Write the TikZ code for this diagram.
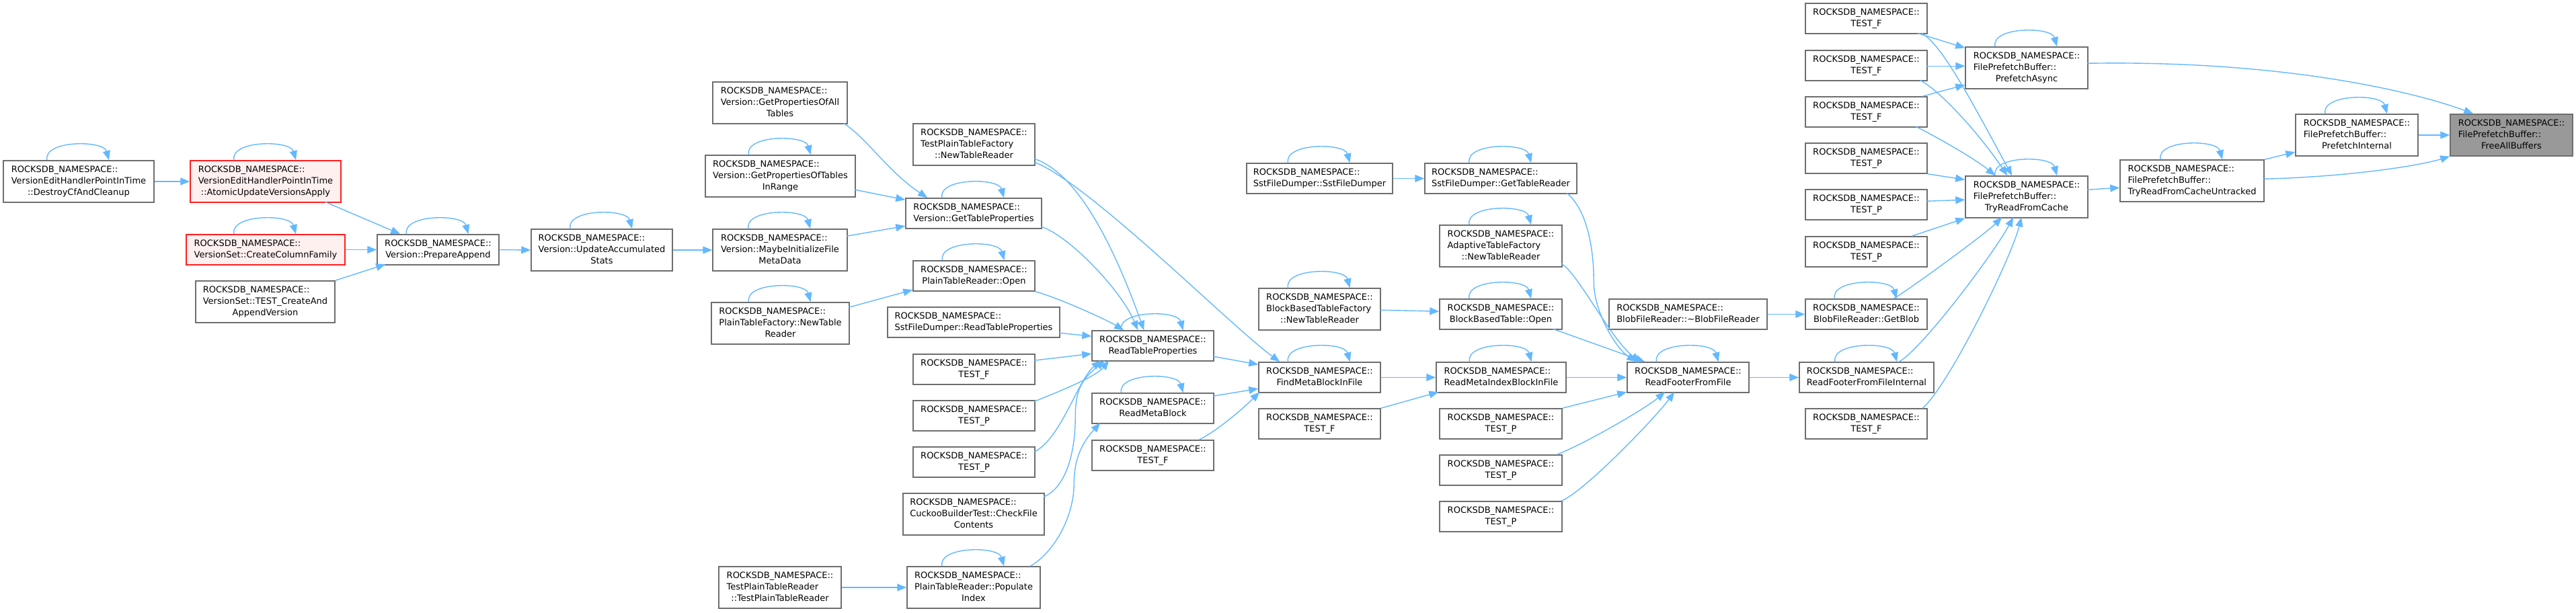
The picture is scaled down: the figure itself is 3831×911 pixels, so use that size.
\documentclass[tikz,border=0pt]{standalone}
\usepackage{fontspec}
\setmainfont{DejaVu Sans}
\usetikzlibrary{arrows.meta}
\definecolor{edgeblue}{HTML}{63B8FF}
\definecolor{bordergray}{HTML}{6E6E6E}
\definecolor{boxred}{HTML}{FF2020}
\definecolor{redfill}{HTML}{FFF0F0}
\definecolor{hlgray}{HTML}{999999}
\newcommand\labelfont{\fontsize{13}{16.7}\selectfont}
\newcommand\Lbl[2]{\begin{tabular}{@{}l@{}}#1\\\multicolumn{1}{@{}c@{}}{#2}\end{tabular}}
\newcommand\Nd[7][box]{\node[#1, minimum width={(#5)-(#3)}, minimum height={(#6)-(#4)}] (#2) at ({((#3)+(#5))/2},{((#4)+(#6))/2}) {#7};}
\newcommand\Loop[1]{\draw[edge] ([xshift=-47pt]#1.north) .. controls +(-6,-30) and +(-8,-30) .. ([xshift=45pt]#1.north);}
\newcommand\RN{ROCKSDB\_NAMESPACE::}
\tikzset{
  box/.style={draw=bordergray, line width=1.5pt, fill=white, inner sep=0pt, rectangle, font=\labelfont, text=black},
  redbox/.style={box, draw=boxred, fill=redfill},
  hibox/.style={box, fill=hlgray},
  edge/.style={draw=edgeblue, line width=1.4pt, -{Triangle[length=14pt,width=11pt]}}
}
\begin{document}
\begin{tikzpicture}[x=1pt,y=-1pt]
\useasboundingbox (0,0) rectangle (3831,911);
% nodes
\Nd{destroy}{5}{239}{229}{301}{\Lbl{\RN\\VersionEditHandlerPointInTime}{::DestroyCfAndCleanup}}
\Nd[redbox]{atomic}{283}{239}{507}{301}{\Lbl{\RN\\VersionEditHandlerPointInTime}{::AtomicUpdateVersionsApply}}
\Nd[redbox]{createcf}{277}{349}{513}{394}{\Lbl{\RN}{VersionSet::CreateColumnFamily}}
\Nd{testcreate}{291}{418}{498}{480}{\Lbl{\RN\\VersionSet::TEST\_CreateAnd}{AppendVersion}}
\Nd{prepare}{561}{349}{742}{394}{\Lbl{\RN}{Version::PrepareAppend}}
\Nd{update}{790}{341}{1000}{403}{\Lbl{\RN\\Version::UpdateAccumulated}{Stats}}
\Nd{propsall}{1060}{122}{1260}{184}{\Lbl{\RN\\Version::GetPropertiesOfAll}{Tables}}
\Nd{propsrange}{1049}{231}{1272}{293}{\Lbl{\RN\\Version::GetPropertiesOfTables}{InRange}}
\Nd{maybeinit}{1060}{341}{1260}{403}{\Lbl{\RN\\Version::MaybeInitializeFile}{MetaData}}
\Nd{plainfactory}{1058}{450}{1263}{512}{\Lbl{\RN\\PlainTableFactory::NewTable}{Reader}}
\Nd{testplainreader}{1069}{843}{1251}{905}{\Lbl{\RN\\TestPlainTableReader}{::TestPlainTableReader}}
\Nd{testplainfactory}{1358}{184}{1539}{246}{\Lbl{\RN\\TestPlainTableFactory}{::NewTableReader}}
\Nd{gettableprops}{1347}{295}{1549}{340}{\Lbl{\RN}{Version::GetTableProperties}}
\Nd{plainopen}{1358}{388}{1539}{433}{\Lbl{\RN}{PlainTableReader::Open}}
\Nd{sstreadprops}{1320}{457}{1576}{502}{\Lbl{\RN}{SstFileDumper::ReadTableProperties}}
\Nd{testfa}{1358}{527}{1539}{572}{\Lbl{\RN}{TEST\_F}}
\Nd{testpa}{1358}{596}{1539}{641}{\Lbl{\RN}{TEST\_P}}
\Nd{testpb}{1358}{665}{1539}{710}{\Lbl{\RN}{TEST\_P}}
\Nd{cuckoo}{1343}{734}{1553}{796}{\Lbl{\RN\\CuckooBuilderTest::CheckFile}{Contents}}
\Nd{populate}{1349}{843}{1547}{905}{\Lbl{\RN\\PlainTableReader::Populate}{Index}}
\Nd{readtableprops}{1624}{492}{1805}{537}{\Lbl{\RN}{ReadTableProperties}}
\Nd{readmetablock}{1624}{585}{1805}{630}{\Lbl{\RN}{ReadMetaBlock}}
\Nd{testfb}{1624}{655}{1805}{700}{\Lbl{\RN}{TEST\_F}}
\Nd{sstdumper}{1854}{243}{2071}{288}{\Lbl{\RN}{SstFileDumper::SstFileDumper}}
\Nd{bbtfactory}{1872}{429}{2053}{491}{\Lbl{\RN\\BlockBasedTableFactory}{::NewTableReader}}
\Nd{findmeta}{1872}{539}{2053}{584}{\Lbl{\RN}{FindMetaBlockInFile}}
\Nd{testfc}{1872}{608}{2053}{653}{\Lbl{\RN}{TEST\_F}}
\Nd{gettablereader}{2119}{243}{2345}{288}{\Lbl{\RN}{SstFileDumper::GetTableReader}}
\Nd{adaptive}{2141}{335}{2323}{397}{\Lbl{\RN\\AdaptiveTableFactory}{::NewTableReader}}
\Nd{bbtopen}{2141}{445}{2323}{490}{\Lbl{\RN}{BlockBasedTable::Open}}
\Nd{readmetaindex}{2136}{539}{2329}{584}{\Lbl{\RN}{ReadMetaIndexBlockInFile}}
\Nd{testpc}{2141}{608}{2323}{653}{\Lbl{\RN}{TEST\_P}}
\Nd{testpd}{2141}{677}{2323}{722}{\Lbl{\RN}{TEST\_P}}
\Nd{testpe}{2141}{746}{2323}{791}{\Lbl{\RN}{TEST\_P}}
\Nd{blobdtor}{2393}{445}{2628}{490}{\Lbl{\RN}{BlobFileReader::\textasciitilde BlobFileReader}}
\Nd{readfooter}{2420}{539}{2601}{584}{\Lbl{\RN}{ReadFooterFromFile}}
\Nd{testfone}{2685}{5}{2866}{50}{\Lbl{\RN}{TEST\_F}}
\Nd{testftwo}{2685}{75}{2866}{120}{\Lbl{\RN}{TEST\_F}}
\Nd{testfthree}{2685}{144}{2866}{189}{\Lbl{\RN}{TEST\_F}}
\Nd{testpone}{2685}{213}{2866}{258}{\Lbl{\RN}{TEST\_P}}
\Nd{testptwo}{2685}{282}{2866}{327}{\Lbl{\RN}{TEST\_P}}
\Nd{testpthree}{2685}{352}{2866}{397}{\Lbl{\RN}{TEST\_P}}
\Nd{getblob}{2685}{445}{2866}{490}{\Lbl{\RN}{BlobFileReader::GetBlob}}
\Nd{readfooterint}{2676}{539}{2876}{584}{\Lbl{\RN}{ReadFooterFromFileInternal}}
\Nd{testffour}{2685}{608}{2866}{653}{\Lbl{\RN}{TEST\_F}}
\Nd{prefetchasync}{2923}{70}{3105}{132}{\Lbl{\RN\\FilePrefetchBuffer::}{PrefetchAsync}}
\Nd{tryread}{2923}{262}{3105}{324}{\Lbl{\RN\\FilePrefetchBuffer::}{TryReadFromCache}}
\Nd{untracked}{3153}{238}{3367}{300}{\Lbl{\RN\\FilePrefetchBuffer::}{TryReadFromCacheUntracked}}
\Nd{prefetchint}{3414}{170}{3596}{232}{\Lbl{\RN\\FilePrefetchBuffer::}{PrefetchInternal}}
\Nd[hibox]{freeall}{3644}{170}{3826}{232}{\Lbl{\RN\\FilePrefetchBuffer::}{FreeAllBuffers}}
% self loops
\foreach \n in {destroy,atomic,createcf,prepare,update,propsrange,maybeinit,plainfactory,gettableprops,plainopen,readtableprops,readmetablock,populate,findmeta,sstdumper,gettablereader,adaptive,bbtfactory,bbtopen,readmetaindex,readfooter,getblob,readfooterint,prefetchasync,tryread,untracked,prefetchint}{\Loop{\n}}
% edges
\draw[edge] (destroy.east) -- (atomic.west);
\draw[edge] ([shift={(201,62)}]atomic.north west) -- ([shift={(35,0)}]prepare.north west);
\draw[edge] (createcf.east) -- (prepare.west);
\draw[edge] (testcreate.north east) -- ([shift={(13,45)}]prepare.north west);
\draw[edge] (prepare.east) -- (update.west);
\draw[edge] (update.east) -- (maybeinit.west);
\draw[edge] ([shift={(195,62)}]propsall.north west) .. controls +(35,22) and +(-60,-40) .. ([shift={(33,0)}]gettableprops.north west);
\draw[edge] ([shift={(223,52)}]propsrange.north west) -- ([shift={(0,3)}]gettableprops.north west);
\draw[edge] ([shift={(200,11)}]maybeinit.north west) -- ([shift={(0,42)}]gettableprops.north west);
\draw[edge] ([shift={(205,8)}]plainfactory.north west) -- ([shift={(0,44)}]plainopen.north west);
\draw[edge] (testplainreader.east) -- (populate.west);
\draw[edge] ([shift={(202,43)}]gettableprops.north west) .. controls +(40,12) and +(-25,-60) .. ([shift={(69,0)}]readtableprops.north west);
\draw[edge] ([shift={(181,53)}]testplainfactory.north west) .. controls +(60,20) and +(-50,-140) .. ([shift={(78,0)}]readtableprops.north west);
\draw[edge] ([shift={(181,58)}]testplainfactory.north west) .. controls +(80,30) and +(-75,-55) .. ([shift={(32,0)}]findmeta.north west);
\draw[edge] (plainopen.south east) .. controls +(30,8) and +(-30,-18) .. ([shift={(48,0)}]readtableprops.north west);
\draw[edge] ([shift={(256,39)}]sstreadprops.north west) -- ([shift={(0,9)}]readtableprops.north west);
\draw[edge] ([shift={(181,10)}]testfa.north west) -- ([shift={(0,35)}]readtableprops.north west);
\draw[edge] ([shift={(181,2)}]testpa.north west) .. controls +(25,-10) and +(-20,25) .. ([shift={(26,45)}]readtableprops.north west);
\draw[edge] ([shift={(181,8)}]testpb.north west) .. controls +(40,-20) and +(-35,30) .. ([shift={(14,45)}]readtableprops.north west);
\draw[edge] ([shift={(210,6)}]cuckoo.north west) .. controls +(35,-15) and +(0,50) .. ++(47,-120) .. controls +(0,-45) and +(-30,25) .. ([shift={(20,45)}]readtableprops.north west);
\draw[edge] ([shift={(184,0)}]populate.north west) .. controls +(35,-20) and +(0,50) .. ++(65,-123) .. controls +(0,-45) and +(-20,22) .. ([shift={(13,45)}]readmetablock.north west);
\draw[edge] ([shift={(181,39)}]readtableprops.north west) -- ([shift={(0,4)}]findmeta.north west);
\draw[edge] ([shift={(181,5)}]readmetablock.north west) -- ([shift={(0,40)}]findmeta.north west);
\draw[edge] ([shift={(160,0)}]testfb.north west) .. controls +(25,-12) and +(-25,25) .. ([shift={(2,45)}]findmeta.north west);
\draw[edge] (sstdumper.east) -- (gettablereader.west);
\draw[edge] ([shift={(212,45)}]gettablereader.north west) .. controls +(30,25) and +(0,-50) .. ++(40,132) .. controls +(0,45) and +(-30,-20) .. ([shift={(14,0)}]readfooter.north west);
\draw[edge] ([shift={(182,58)}]adaptive.north west) .. controls +(25,15) and +(-45,-35) .. ([shift={(20,0)}]readfooter.north west);
\draw[edge] ([shift={(181,33)}]bbtfactory.north west) -- ([shift={(0,19)}]bbtopen.north west);
\draw[edge] ([shift={(169,45)}]bbtopen.north west) -- ([shift={(27,0)}]readfooter.north west);
\draw[edge] (findmeta.east) -- (readmetaindex.west);
\draw[edge] (testfc.north east) -- ([shift={(4,45)}]readmetaindex.north west);
\draw[edge] (readmetaindex.east) -- (readfooter.west);
\draw[edge] (testpc.north east) -- ([shift={(0,45)}]readfooter.north west);
\draw[edge] ([shift={(175,0)}]testpd.north west) .. controls +(40,-15) and +(-30,25) .. ([shift={(57,45)}]readfooter.north west);
\draw[edge] ([shift={(182,0)}]testpe.north west) .. controls +(35,-15) and +(-30,40) .. ([shift={(71,45)}]readfooter.north west);
\draw[edge] (readfooter.east) -- (readfooterint.west);
\draw[edge] (blobdtor.east) -- (getblob.west);
\draw[edge] ([shift={(132,0)}]getblob.north west) .. controls +(25,-15) and +(-25,25) .. ([shift={(55,62)}]tryread.north west);
\draw[edge] ([shift={(149,0)}]readfooterint.north west) .. controls +(35,-20) and +(-30,55) .. ([shift={(72,62)}]tryread.north west);
\draw[edge] ([shift={(175,0)}]testffour.north west) .. controls +(40,-35) and +(-15,60) .. ([shift={(84,62)}]tryread.north west);
\draw[edge] ([shift={(167,45)}]testfone.north west) -- ([shift={(0,2)}]prefetchasync.north west);
\draw[edge] ([shift={(173,45)}]testfone.north west) .. controls +(30,15) and +(-60,-110) .. ([shift={(70,0)}]tryread.north west);
\draw[edge] ([shift={(181,24)}]testftwo.north west) -- ([shift={(0,29)}]prefetchasync.north west);
\draw[edge] ([shift={(171,45)}]testftwo.north west) .. controls +(30,15) and +(-40,-60) .. ([shift={(63,0)}]tryread.north west);
\draw[edge] ([shift={(175,0)}]testfthree.north west) -- ([shift={(0,57)}]prefetchasync.north west);
\draw[edge] ([shift={(165,45)}]testfthree.north west) .. controls +(30,15) and +(-30,-25) .. ([shift={(45,0)}]tryread.north west);
\draw[edge] (testpone.south east) -- ([shift={(0,6)}]tryread.north west);
\draw[edge] ([shift={(181,18)}]testptwo.north west) -- ([shift={(0,36)}]tryread.north west);
\draw[edge] ([shift={(159,0)}]testpthree.north west) -- (tryread.south west);
\draw[edge] ([shift={(182,25)}]prefetchasync.north west) .. controls +(300,-5) and +(-80,-30) .. ([shift={(35,0)}]freeall.north west);
\draw[edge] ([shift={(182,21)}]tryread.north west) -- ([shift={(0,42)}]untracked.north west);
\draw[edge] (untracked.north east) -- ([shift={(0,57)}]prefetchint.north west);
\draw[edge] ([shift={(214,29)}]untracked.north west) .. controls +(120,-3) and +(-50,15) .. (freeall.south west);
\draw[edge] (prefetchint.east) -- (freeall.west);
\end{tikzpicture}
\end{document}
